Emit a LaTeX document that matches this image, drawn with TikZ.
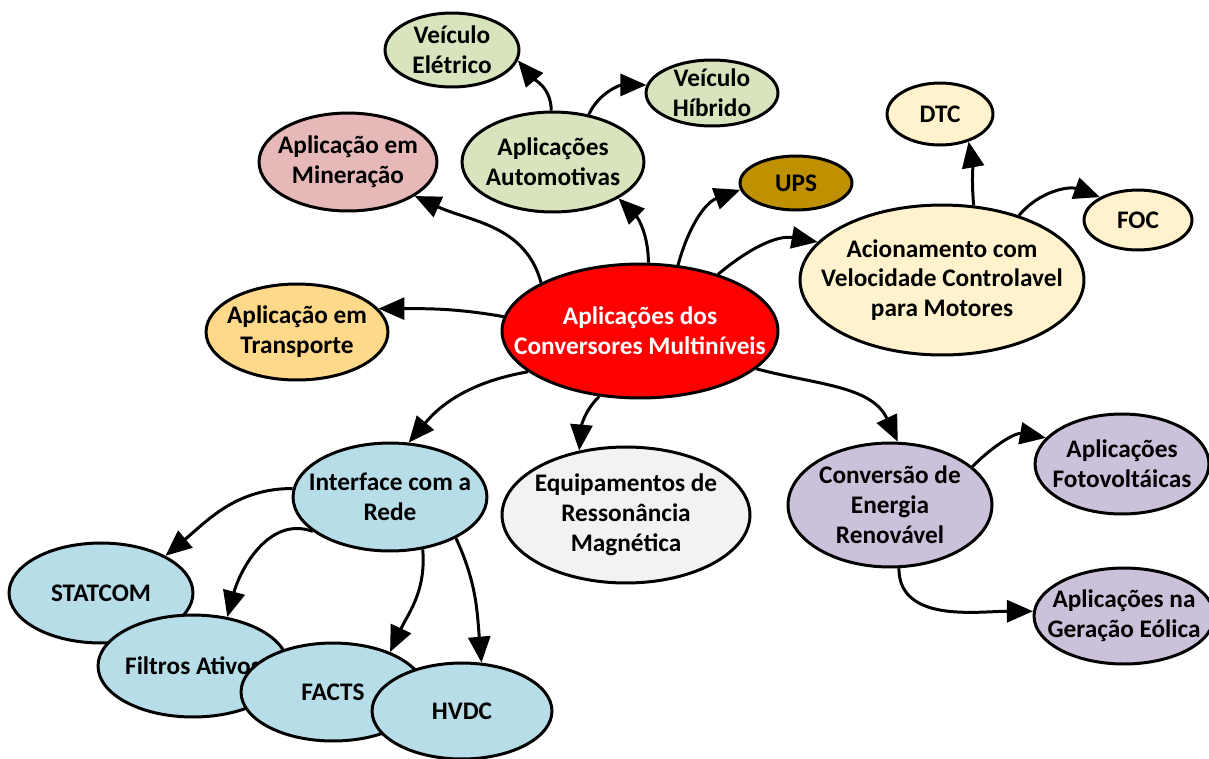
\documentclass[tikz,border=0pt]{standalone}
\usepackage{fontspec}
\setmainfont{Carlito}
\usetikzlibrary{shapes.geometric,arrows.meta}
\definecolor{vermelho}{HTML}{FF0000}
\definecolor{verde}{HTML}{D7E4BD}
\definecolor{rosa}{HTML}{E6B9B8}
\definecolor{ouro}{HTML}{BF9000}
\definecolor{creme}{HTML}{FFF2CC}
\definecolor{laranja}{HTML}{FFD98A}
\definecolor{azul}{HTML}{B7DDE8}
\definecolor{cinza}{HTML}{F2F2F2}
\definecolor{lilas}{HTML}{CCC1DA}
\tikzset{
    bolha/.style 2 args={ellipse, draw, line width=1.7pt, inner sep=0pt,
        minimum width=#1*0.04cm, minimum height=#2*0.04cm},
    texto/.style={align=center, inner sep=0pt, font=\fontsize{14.4}{17}\selectfont\bfseries},
    seta/.style={line width=1.7pt, -{Triangle[length=0.52cm, width=0.44cm]}}
}
\begin{document}
\begin{tikzpicture}[x=0.02cm, y=0.02cm]
                \useasboundingbox (0,0) rectangle (1209,-758);
                \node[bolha={138}{67}, fill=vermelho] (apl) at (640,-331) {};
                \node[texto, text=white] at (apl) {Aplicações dos\\Conversores Multiníveis};
                \node[bolha={67}{37}, fill=verde] (eletr) at (452,-50) {};
                \node[texto] at (eletr) {Veículo\\Elétrico};
                \node[bolha={66}{33}, fill=verde] (hibr) at (712,-93) {};
                \node[texto] at (hibr) {Veículo\\Híbrido};
                \node[bolha={91}{50}, fill=verde] (auto) at (553,-162) {};
                \node[texto] at (auto) {Aplicações\\Automotivas};
                \node[bolha={89}{49}, fill=rosa] (mine) at (348,-162) {};
                \node[texto] at (mine) {Aplicação em\\Mineração};
                \node[bolha={56}{27}, fill=ouro] (ups) at (796,-183) {};
                \node[texto] at (ups) {UPS};
                \node[bolha={53}{31}, fill=creme] (dtc) at (940,-114) {};
                \node[texto] at (dtc) {DTC};
                \node[bolha={54}{30}, fill=creme] (foc) at (1138,-220) {};
                \node[texto] at (foc) {FOC};
                \node[bolha={142}{75}, fill=creme] (acion) at (942,-280) {};
                \node[texto] at (acion) {Acionamento com\\Velocidade Controlavel\\para Motores};
                \node[bolha={91}{48}, fill=laranja] (transp) at (297,-332) {};
                \node[texto] at (transp) {Aplicação em\\Transporte};
                \node[bolha={97}{54}, fill=azul] (rede) at (390,-497) {};
                \node[texto] at (rede) {Interface com a\\Rede};
                \node[bolha={124}{68}, fill=cinza] (resson) at (626,-515) {};
                \node[texto] at (resson) {Equipamentos de\\Ressonância\\Magnética};
                \node[bolha={102}{62}, fill=lilas] (renov) at (890,-505) {};
                \node[texto] at (renov) {Conversão de\\Energia\\Renovável};
                \node[bolha={87}{50}, fill=lilas] (foto) at (1122,-464) {};
                \node[texto] at (foto) {Aplicações\\Fotovoltáicas};
                \node[bolha={90}{48}, fill=lilas] (eolica) at (1124,-616) {};
                \node[texto] at (eolica) {Aplicações na\\Geração Eólica};
                \node[bolha={92}{50}, fill=azul] (statcom) at (101,-593) {};
                \node[texto] at (statcom) {STATCOM};
                \node[bolha={95}{51}, fill=azul] (filtros) at (193,-666) {};
                \node[texto] at (filtros) {Filtros Ativos};
                \node[bolha={92}{49}, fill=azul] (facts) at (333,-692) {};
                \node[texto] at (facts) {FACTS};
                \node[bolha={90}{48}, fill=azul] (hvdc) at (462,-711) {};
                \node[texto] at (hvdc) {HVDC};
                \draw[seta] (apl.83) to[out=90, in=-45] (auto.331);
                \draw[seta] (apl.154) to[out=105, in=-25] (mine.333);
                \draw[seta] (apl.60) to[out=75, in=200] (ups.187);
                \draw[seta] (apl.36) to[out=40, in=170] (acion.163);
                \draw[seta] (apl.174) to[out=170, in=0] (transp.16);
                \draw[seta] (apl.200) to[out=190, in=50] (rede.71);
                \draw[seta] (apl.238) to[out=225, in=85] (resson.126);
                \draw[seta] (apl.342) to[out=-15, in=115] (renov.83);
                \draw[seta] (auto.92) to[out=90, in=-50] (eletr.351);
                \draw[seta] (auto.53) to[out=65, in=180] (hibr.173);
                \draw[seta] (acion.67) to[out=95, in=-80] (dtc.316);
                \draw[seta] (acion.40) to[out=50, in=160] (foc.149);
                \draw[seta] (renov.25) to[out=45, in=170] (foto.161);
                \draw[seta] (renov.278) to[out=-90, in=180] (eolica.177);
                \draw[seta] (rede.175) to[out=180, in=40] (statcom.30);
                \draw[seta] (rede.204) to[out=160, in=75] (filtros.55);
                \draw[seta] (rede.302) to[out=-85, in=65] (facts.35);
                \draw[seta] (rede.328) to[out=-65, in=95] (hvdc.68);
            \end{tikzpicture}
\end{document}
